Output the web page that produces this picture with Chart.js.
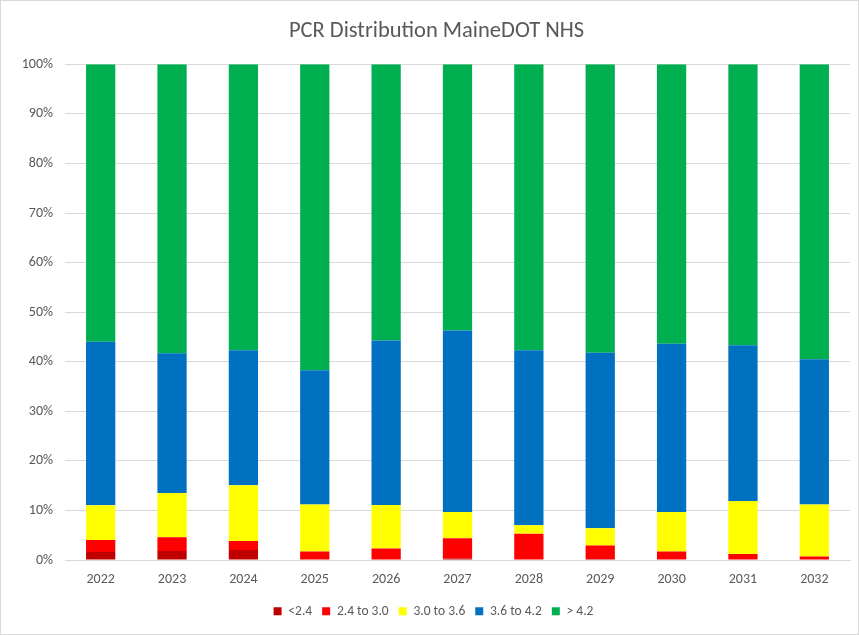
<!DOCTYPE html>
<html>
<head>
<meta charset="utf-8">
<script src="https://cdn.jsdelivr.net/npm/chart.js@4/dist/chart.umd.min.js"></script>
<style>
 html, body { margin: 0; padding: 0; background: #fff; }
 #wrap { width: 859px; height: 635px; box-sizing: border-box; border: 1px solid #d9d9d9; position: relative; }
</style>
</head>
<body>
<div id="wrap"><canvas id="pcrChart"></canvas></div>
<script>
const years = ["2022", "2023", "2024", "2025", "2026", "2027", "2028", "2029", "2030", "2031", "2032"];
const below24 = [1.6, 1.8, 2.0, 0, 0, 0.3, 0, 0.2, 0, 0, 0.1];
const from24to30 = [2.45, 2.8, 1.85, 1.7, 2.3, 4.1, 5.3, 2.7, 1.7, 1.2, 0.6];
const from30to36 = [7.0, 8.9, 11.25, 9.5, 8.8, 5.3, 1.7, 3.5, 8.0, 10.7, 10.5];
const from36to42 = [33.0, 28.2, 27.2, 27.1, 33.2, 36.6, 35.3, 35.4, 33.9, 31.4, 29.3];
const above42 = [55.95, 58.3, 57.7, 61.7, 55.7, 53.7, 57.7, 58.2, 56.4, 56.7, 59.5];
const yTicks = [0, 10, 20, 30, 40, 50, 60, 70, 80, 90, 100];

document.addEventListener("DOMContentLoaded", () => {
 const ctx = document.getElementById("pcrChart").getContext("2d");
 const font = "Carlito, Lato, 'Liberation Sans', sans-serif";
 const grey = "#595959";

 const mk = (label, data, color) => ({
  label: label,
  data: data,
  backgroundColor: color,
  borderWidth: 0,
  categoryPercentage: 1,
  barPercentage: 0.41,
 });

 // title and legend sit a little right of centre in the Excel original
 const boxShift = {
  id: "boxShift",
  afterLayout(chart) {
   chart.legend.left += 8;
   chart.legend.right += 8;
   chart.titleBlock.left += 11;
   chart.titleBlock.right += 11;
  },
 };

 new Chart(ctx, {
  type: "bar",
  data: {
   labels: years,
   datasets: [
    mk("<2.4", below24, "#C00000"),
    mk("2.4 to 3.0", from24to30, "#FF0000"),
    mk("3.0 to 3.6", from30to36, "#FFFF00"),
    mk("3.6 to 4.2", from36to42, "#0070C0"),
    mk("> 4.2", above42, "#00B050"),
   ],
  },
  plugins: [boxShift],
  options: {
   responsive: true,
   maintainAspectRatio: false,
   animation: false,
   layout: { padding: { left: 0, right: 8, top: 0, bottom: 6 } },
   plugins: {
    title: {
     display: true,
     text: "PCR Distribution MaineDOT NHS",
     color: grey,
     font: { family: font, size: 22.5, weight: "normal" },
     padding: { top: 17, bottom: 19.3 },
    },
    legend: {
     position: "bottom",
     labels: {
      color: grey,
      font: { family: font, size: 13.5 },
      boxWidth: 8,
      boxHeight: 8,
      padding: 10,
     },
    },
    tooltip: { enabled: false },
   },
   scales: {
    x: {
     stacked: true,
     grid: { display: false, drawTicks: false },
     border: { color: "#d9d9d9" },
     afterFit: (s) => { s.height = 34.5; },
     ticks: { color: grey, font: { family: font, size: 14 }, padding: 11 },
    },
    y: {
     stacked: true,
     min: 0,
     max: 100,
     afterBuildTicks: (s) => { s.ticks = yTicks.map((v) => ({ value: v })); },
     afterFit: (s) => { s.width = 64; },
     grid: { color: "#d9d9d9", drawTicks: false },
     border: { display: false },
     ticks: {
      color: grey,
      font: { family: font, size: 14 },
      padding: 12,
      callback: (v) => v + "%",
     },
    },
   },
  },
 });
});
</script>
</body>
</html>
